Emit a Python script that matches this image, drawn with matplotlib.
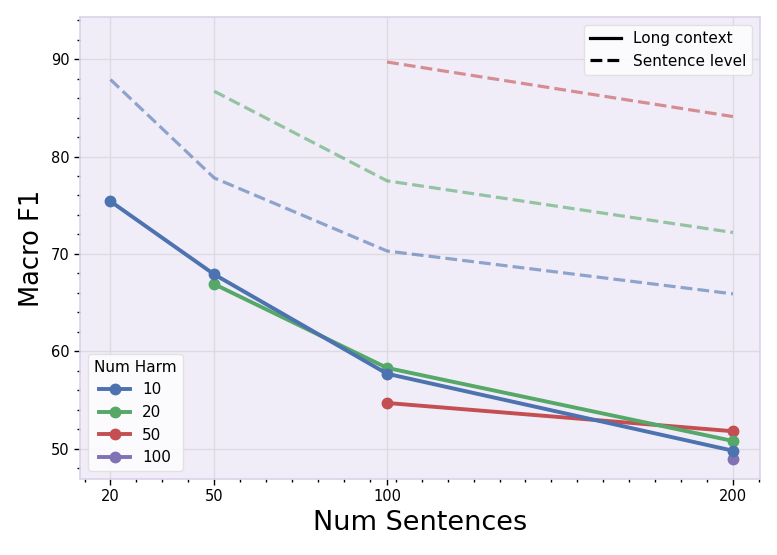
import matplotlib
matplotlib.use("Agg")
import matplotlib.pyplot as plt
from matplotlib.ticker import AutoMinorLocator
from matplotlib.lines import Line2D

num_sentences = [20, 50, 100, 200]
harm_levels = ["10", "20", "50", "100"]

long_x = {
    "10": [20, 50, 100, 200],
    "20": [50, 100, 200],
    "50": [100, 200],
    "100": [200],
}
long_f1 = {
    "10": [75.4, 67.9, 57.7, 49.8],
    "20": [66.9, 58.3, 50.8],
    "50": [54.7, 51.8],
    "100": [49.0],
}
sent_x = {
    "10": [20, 50, 100, 200],
    "20": [50, 100, 200],
    "50": [100, 200],
}
sent_f1 = {
    "10": [87.9, 77.8, 70.3, 65.9],
    "20": [86.7, 77.5, 72.2],
    "50": [89.7, 84.1],
}

colors = {"10": "#4C72B0", "20": "#55A868", "50": "#C44E52", "100": "#8172B3"}
zorders = {"10": 6, "20": 5, "50": 4, "100": 3}

fig = plt.figure(figsize=(7.77, 5.55), dpi=100)
ax = fig.add_axes([0.103, 0.137, 0.875, 0.832])
ax.set_facecolor("#F0EDF8")
for s in ax.spines.values():
    s.set_color("#D9D4E6")
    s.set_linewidth(1.2)

ax.grid(True, which="major", color="#DDDAE3", linewidth=1.0, zorder=0)
ax.set_axisbelow(True)

handles = []
for h in harm_levels:
    ln, = ax.plot(long_x[h], long_f1[h], "-o", color=colors[h], lw=2.8, ms=7.5,
                  zorder=zorders[h], label=h)
    handles.append(ln)
    if h in sent_x:
        ax.plot(sent_x[h], sent_f1[h], "--", color=colors[h], lw=2.3, alpha=0.6,
                zorder=2)

ax.set_xticks(num_sentences)
ax.set_xticklabels([str(v) for v in num_sentences])
ax.xaxis.set_minor_locator(AutoMinorLocator())
ax.yaxis.set_minor_locator(AutoMinorLocator())
ax.set_xlim(11.2, 207.8)
ax.set_ylim(46.9, 94.3)
ax.set_yticks([50, 60, 70, 80, 90])
ax.tick_params(axis="both", which="major", direction="out", length=4, width=1,
               color="black", labelsize=10.5)
ax.tick_params(axis="both", which="minor", direction="out", length=2.5, width=1,
               color="black")

ax.set_xlabel("Num Sentences", fontsize=19.5)
ax.set_ylabel("Macro F1", fontsize=18.5)

leg1 = ax.legend(handles=handles, title="Num Harm", loc="lower left",
                 fontsize=11, title_fontsize=11, framealpha=0.8,
                 edgecolor="#DDDDDD")
ax.add_artist(leg1)

style_handles = [Line2D([0], [0], color="black", lw=2.3, ls="-"),
                 Line2D([0], [0], color="black", lw=2.3, ls="--")]
ax.legend(style_handles, ["Long context", "Sentence level"], loc="upper right",
          fontsize=11, framealpha=0.8, edgecolor="#DDDDDD")

fig.savefig("out.png", dpi=100)
